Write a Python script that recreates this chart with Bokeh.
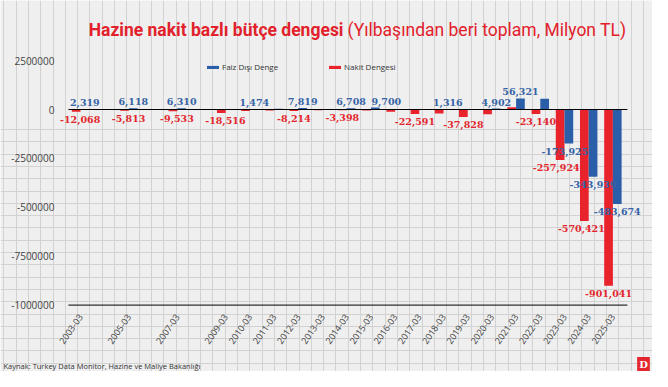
from bokeh.plotting import figure
from bokeh.models import (ColumnDataSource, Range1d, FixedTicker, Label,
                          Legend, LegendItem)
from bokeh.transform import dodge
from bokeh.embed import file_html
from bokeh.resources import INLINE
from bokeh.core.properties import value

# ---------------- data ----------------
years = [2003, 2005, 2007, 2009, 2010, 2011, 2012, 2013, 2014, 2015,
         2016, 2017, 2018, 2019, 2020, 2021, 2022, 2023, 2024, 2025]
tick_labels = ["2003-03", "2005-03", "2007-03", "2009-03", "2010-03", "2011-03",
               "2012-03", "2013-03", "2014-03", "2015-03", "2016-03", "2017-03",
               "2018-03", "2019-03", "2020-03", "2021-03", "2022-03", "2023-03",
               "2024-03", "2025-03"]
faiz_disi_denge = [2319, 6118, 6310, 900, 1474, 3500, 7819, 3000, 6708, 9700,
                   -1500, 2000, 1316, 1000, 4902, 56321, 55000, -173925, -343939, -483674]
nakit_dengesi = [-12068, -5813, -9533, -18516, -8000, -5000, -8214, -3500, -3398, -4500,
                 -12000, -22591, -21000, -37828, -24000, 12000, -23140, -257924, -570421, -901041]
faiz_labeled = [True, True, True, False, True, False, True, False, True, True,
                False, False, True, False, True, True, False, True, True, True]
nakit_labeled = [True, True, True, True, False, False, True, False, True, False,
                 False, True, False, True, False, False, True, True, True, True]
y_ticks = [250000, 0, -250000, -500000, -750000, -1000000]
y_tick_labels = ["2500000", "0", "-2500000", "-500000", "-7500000", "-1000000"]

BLUE = "#2b5ea8"
RED = "#e8232b"
BLUE_TXT = "#3563a6"
RED_TXT = "#e3262d"
TXT = "#444444"
BG = "#efefef"
PAPER = "#d2d2d2"

W, H = 652, 371
PX_PER_YEAR = 24.2
UNITS_PER_PX = 250000 / 48.9
X_START = 2003 - 80 / PX_PER_YEAR
Y_TOP = 109 * UNITS_PER_PX
x_end = X_START + W / PX_PER_YEAR
y_bottom = Y_TOP - H * UNITS_PER_PX

src = ColumnDataSource(dict(x=years, faiz=faiz_disi_denge, nakit=nakit_dengesi))

p = figure(width=W, height=H, output_backend="svg", toolbar_location=None,
           x_range=Range1d(X_START, x_end), y_range=Range1d(y_bottom, Y_TOP),
           min_border=0, min_border_left=0, min_border_right=0,
           min_border_top=0, min_border_bottom=0)
p.title.visible = False
p.background_fill_color = BG
p.border_fill_color = BG
p.outline_line_color = None

# graph-paper background (decoration) drawn as grid lines
vx = [X_START + (3.3 + 12.3 * k) / PX_PER_YEAR for k in range(54)]
hy = [Y_TOP - (129 + 12.3 * k) * UNITS_PER_PX for k in range(21)]
p.xgrid.ticker = FixedTicker(ticks=vx)
p.xgrid.bounds = (y_bottom, Y_TOP - 129 * UNITS_PER_PX)
p.xgrid.grid_line_color = PAPER
p.ygrid.ticker = FixedTicker(ticks=hy)
p.ygrid.grid_line_color = PAPER

# bars
r_red = p.vbar(x=dodge("x", -0.18, range=p.x_range), top="nakit", width=0.36,
               source=src, fill_color=RED, line_color=None)
r_blue = p.vbar(x=dodge("x", 0.18, range=p.x_range), top="faiz", width=0.36,
                source=src, fill_color=BLUE, line_color=None)

# zero line and base line
X0, X1 = 2002.5, 2025.6
p.segment(x0=[X0, X0], x1=[X1, X1], y0=[0, y_ticks[-1]], y1=[0, y_ticks[-1]],
          line_color="black", line_width=1)

# axes (drawn at fixed positions inside the frame)
p.yaxis.fixed_location = X_START + 60 / PX_PER_YEAR
p.yaxis.ticker = FixedTicker(ticks=y_ticks)
p.yaxis.major_label_overrides = {t: l for t, l in zip(y_ticks, y_tick_labels)}
p.yaxis.axis_line_color = None
p.yaxis.major_tick_line_color = None
p.yaxis.minor_tick_line_color = None
p.yaxis.major_label_standoff = 0
p.yaxis.major_label_text_font = "Open Sans"
p.yaxis.major_label_text_font_size = "10px"
p.yaxis.major_label_text_color = TXT

p.xaxis.fixed_location = y_ticks[-1]
p.xaxis.ticker = FixedTicker(ticks=years)
p.xaxis.major_label_overrides = {y: l for y, l in zip(years, tick_labels)}
p.xaxis.major_label_orientation = 0.96
p.xaxis.axis_line_color = None
p.xaxis.major_tick_line_color = None
p.xaxis.minor_tick_line_color = None
p.xaxis.major_label_standoff = 4
p.xaxis.major_label_text_font = "Open Sans"
p.xaxis.major_label_text_font_size = "9px"
p.xaxis.major_label_text_color = TXT

# data labels
def rows(vals, flags, off, dx_extra):
    pos = dict(x=[], y=[], t=[], dx=[])
    neg = dict(x=[], y=[], t=[], dx=[])
    for yr, v, f in zip(years, vals, flags):
        if not f:
            continue
        d = pos if v >= 0 else neg
        d["x"].append(yr + off)
        d["y"].append(v)
        d["t"].append(f"{v:,}")
        d["dx"].append(dx_extra.get(yr, 0))
    return pos, neg

b_pos, b_neg = rows(faiz_disi_denge, faiz_labeled, 0.18, {2015: 11, 2023: -4})
r_pos, r_neg = rows(nakit_dengesi, nakit_labeled, -0.18,
                    {2003: 4, 2005: 4, 2007: 4, 2009: 4, 2023: -4, 2024: -3})

lab_font = value("DejaVu Serif")
for d, col, base, yo in [(b_pos, BLUE_TXT, "bottom", -3), (b_neg, BLUE_TXT, "top", 4),
                         (r_pos, RED_TXT, "bottom", -3), (r_neg, RED_TXT, "top", 4)]:
    if not d["x"]:
        continue
    p.text(x="x", y="y", text="t", x_offset="dx", y_offset=yo,
           source=ColumnDataSource(d), text_font=lab_font, text_font_style="bold",
           text_font_size="9.5px", text_color=col, text_align="center",
           text_baseline=base)

# legends
for item_label, rend, lx in [("Faiz Dışı Denge", r_blue, 205), ("Nakit Dengesi", r_red, 327)]:
    lg = Legend(items=[LegendItem(label=item_label, renderers=[rend])],
                location=(lx, 299), orientation="horizontal",
                background_fill_alpha=0, border_line_color=None,
                padding=0, margin=0, glyph_width=15, glyph_height=4,
                label_standoff=2, label_text_font="Open Sans",
                label_text_font_size="8px", label_text_color="#333333",
                label_height=10)
    p.add_layout(lg)

# title (two styles)
p.add_layout(Label(x=343, y=H - 29, x_units="screen", y_units="screen",
                   text="Hazine nakit bazlı bütçe dengesi", text_align="right",
                   text_baseline="alphabetic", text_font="Roboto",
                   text_font_style="bold", text_font_size="17.5px", text_color="#e3212b"))
p.add_layout(Label(x=347, y=H - 29, x_units="screen", y_units="screen",
                   text="(Yılbaşından beri toplam, Milyon TL)", text_align="left",
                   text_baseline="alphabetic", text_font="Roboto",
                   text_font_size="17.5px", text_color="#e3212b"))

# source note and logo
p.add_layout(Label(x=3, y=H - 365, x_units="screen", y_units="screen",
                   text="Kaynak: Turkey Data Monitor, Hazine ve Maliye Bakanlığı",
                   text_align="left", text_baseline="middle", text_font="Open Sans",
                   text_font_size="7.5px", text_color="#333333"))
p.add_layout(Label(x=643, y=H - 364, x_units="screen", y_units="screen", text="D",
                   text_align="center", text_baseline="middle", text_font="DejaVu Serif",
                   text_font_style="bold", text_font_size="10px", text_color="white",
                   background_fill_color="#e3262d", padding=2))

open("out.html", "w").write(file_html(p, INLINE))
